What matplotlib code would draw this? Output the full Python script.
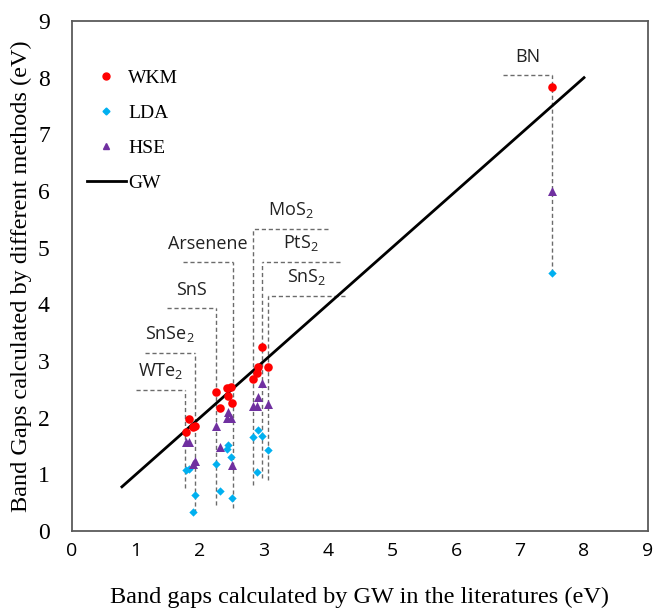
import matplotlib
matplotlib.use("Agg")
import matplotlib.pyplot as plt
from matplotlib.lines import Line2D

plt.rcParams['mathtext.fontset'] = 'custom'
plt.rcParams['mathtext.rm'] = 'Open Sans'
plt.rcParams['mathtext.it'] = 'Open Sans'
plt.rcParams['mathtext.default'] = 'rm'

# ---- data ----
gw_x = [1.78, 1.83, 1.89, 1.92, 2.25, 2.31, 2.42, 2.44, 2.48, 2.50,
        2.83, 2.89, 2.90, 2.97, 3.07, 7.50]
wkm = [1.75, 1.98, 1.83, 1.85, 2.45, 2.17, 2.52, 2.38, 2.54, 2.26,
       2.68, 2.79, 2.89, 3.25, 2.89, 7.83]
lda = [1.08, 1.09, 0.34, 0.63, 1.18, 0.71, 1.45, 1.52, 1.31, 0.58,
       1.66, 1.04, 1.78, 1.68, 1.43, 4.55]
hse = [1.57, 1.57, 1.18, 1.23, 1.85, 1.48, 1.99, 2.10, 1.99, 1.16,
       2.20, 2.20, 2.36, 2.61, 2.24, 6.00]
gw_line_x = [0.78, 8.0]
gw_line_y = [0.78, 8.0]

materials = ["WTe$_2$", "SnSe$_2$", "SnS", "Arsenene", "MoS$_2$", "PtS$_2$", "SnS$_2$", "BN"]
mat_x = [1.77, 1.92, 2.25, 2.52, 2.83, 2.97, 3.06, 7.50]
mat_top = [2.49, 3.14, 3.93, 4.74, 5.33, 4.74, 4.14, 8.04]
mat_bottom = [0.76, 0.32, 0.46, 0.41, 0.81, 0.93, 0.90, 4.55]
mat_hend = [1.00, 1.14, 1.48, 1.73, 4.00, 4.19, 4.27, 6.73]

x_ticks = list(range(0, 10))
y_ticks = list(range(0, 10))

fig = plt.figure(figsize=(6.53, 6.08), dpi=100)
ax = fig.add_axes([72/653, 77/608, 576/653, 510/608])

dash_col = '#6b6b6b'
for name, xv, top, bot, hend in zip(materials, mat_x, mat_top, mat_bottom, mat_hend):
    ax.plot([xv, xv], [bot, top], ls=(0, (3, 2)), color=dash_col, lw=1.0, zorder=1)
    ax.plot([hend, xv], [top, top], ls=(0, (3, 2)), color=dash_col, lw=1.0, zorder=1)
    ax.text((hend + xv) / 2, top + 0.16, name, ha='center', va='bottom',
            fontsize=13, family='Open Sans', color='#222222')

ax.plot(gw_line_x, gw_line_y, color='black', lw=2.0, zorder=2)
ax.scatter(gw_x, wkm, marker='o', s=38, color='#FF0000', zorder=4, linewidths=0)
ax.scatter(gw_x, lda, marker='D', s=18, color='#00B0F0', zorder=4, linewidths=0)
ax.scatter(gw_x, hse, marker='^', s=42, color='#7030A0', zorder=4, linewidths=0)

ax.set_xlim(0, 9)
ax.set_ylim(0, 9)
ax.set_xticks(x_ticks)
ax.set_yticks(y_ticks)
ax.tick_params(length=0)
ax.tick_params(axis='x', pad=8)
ax.tick_params(axis='y', pad=16)
for lab in ax.get_xticklabels():
    lab.set_family('Open Sans')
    lab.set_fontsize(14)
for lab in ax.get_yticklabels():
    lab.set_family('Liberation Serif')
    lab.set_fontsize(17)
for sp in ax.spines.values():
    sp.set_color('#5a5a5a')
    sp.set_linewidth(1.3)

ax.set_xlabel('Band gaps calculated by GW in the literatures (eV)',
              family='Liberation Serif', fontsize=17.5, labelpad=19)
ax.set_ylabel('Band Gaps calculated by different methods (eV)',
              family='Liberation Serif', fontsize=17.5, labelpad=4)

handles = [
    Line2D([], [], ls='none', marker='o', color='#FF0000', markersize=5),
    Line2D([], [], ls='none', marker='D', color='#00B0F0', markersize=3.5),
    Line2D([], [], ls='none', marker='^', color='#7030A0', markersize=5),
    Line2D([], [], color='black', lw=2.0),
]
leg = ax.legend(handles, ['WKM', 'LDA', 'HSE', 'GW'], loc='upper left',
                bbox_to_anchor=(-0.005, 0.94), frameon=False,
                prop={'family': 'Liberation Serif', 'size': 14},
                labelspacing=0.9, handlelength=2.0, handletextpad=0.15)

fig.savefig('out.png', dpi=100)
